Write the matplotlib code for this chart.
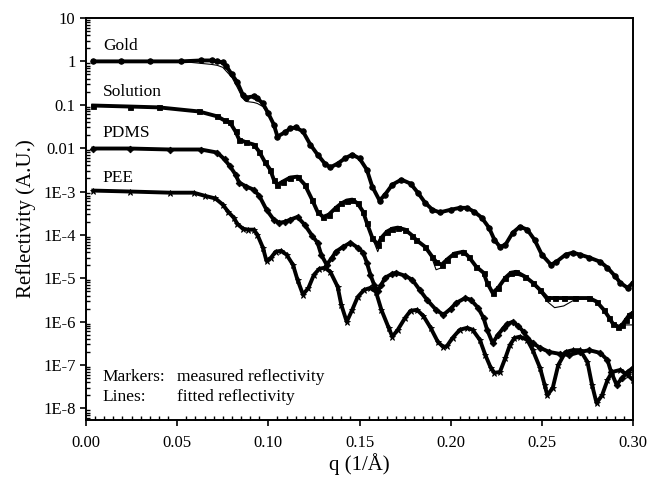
import numpy as np
import matplotlib
matplotlib.use("Agg")
import matplotlib.pyplot as plt
from matplotlib.ticker import FixedLocator, MultipleLocator, LogLocator, NullFormatter

plt.rcParams['font.family'] = ['Liberation Serif', 'DejaVu Serif']

# Gold (circles)
gold_q = [0.004, 0.019, 0.035, 0.052, 0.063, 0.069, 0.072, 0.075, 0.077, 0.080, 0.083, 0.086,
          0.088, 0.092, 0.094, 0.097, 0.100, 0.103, 0.105, 0.109, 0.112, 0.115, 0.119, 0.123,
          0.127, 0.131, 0.134, 0.138, 0.142, 0.146, 0.150, 0.154, 0.157, 0.161, 0.164, 0.168,
          0.173, 0.178, 0.182, 0.186, 0.190, 0.194, 0.200, 0.205, 0.209, 0.213, 0.217, 0.221,
          0.224, 0.227, 0.230, 0.234, 0.238, 0.242, 0.246, 0.250, 0.255, 0.258, 0.263, 0.267,
          0.271, 0.276, 0.282, 0.286, 0.290, 0.293, 0.297, 0.300]
gold_r = [1.0, 1.0, 1.0, 1.0, 1.05, 1.05, 1.0, 0.95, 0.77, 0.50, 0.33, 0.17,
          0.147, 0.156, 0.14, 0.107, 0.063, 0.035, 0.0185, 0.023, 0.0284, 0.030, 0.0242, 0.0121,
          0.0071, 0.0044, 0.0036, 0.0044, 0.0058, 0.0071, 0.0058, 0.0032, 0.0013, 0.00062, 0.00085, 0.00144,
          0.00188, 0.00152, 0.00094, 0.00055, 0.00038, 0.00033, 0.00038, 0.00042, 0.00042, 0.00034, 0.00025, 0.000147,
          7.7e-5, 5.3e-5, 5.9e-5, 1.12e-4, 1.55e-4, 1.32e-4, 7.7e-5, 3.5e-5, 2.05e-5, 2.4e-5, 3.5e-5, 3.9e-5,
          3.5e-5, 3.0e-5, 2.4e-5, 1.75e-5, 1.14e-5, 7.9e-6, 6.0e-6, 7.9e-6]
gold_fit = [1.0, 1.0, 1.0, 1.0, 0.90, 0.85, 0.81, 0.73, 0.59, 0.43, 0.25, 0.14,
            0.119, 0.113, 0.107, 0.091, 0.060, 0.034, 0.0185, 0.023, 0.0284, 0.030, 0.0242, 0.0121,
            0.0071, 0.0044, 0.0036, 0.0044, 0.0058, 0.0071, 0.0058, 0.0032, 0.0013, 0.00062, 0.00085, 0.00144,
            0.00188, 0.00152, 0.00094, 0.00055, 0.00038, 0.00033, 0.00038, 0.00042, 0.00042, 0.00034, 0.00025, 0.000147,
            7.7e-5, 5.3e-5, 5.9e-5, 1.12e-4, 1.55e-4, 1.32e-4, 7.7e-5, 3.5e-5, 2.05e-5, 2.4e-5, 3.5e-5, 3.9e-5,
            3.5e-5, 3.0e-5, 2.4e-5, 1.75e-5, 1.14e-5, 7.9e-6, 6.0e-6, 7.9e-6]

# Solution (squares)
sol_q = [0.004, 0.024, 0.040, 0.062, 0.072, 0.076, 0.079, 0.082, 0.084, 0.088, 0.092, 0.095,
         0.098, 0.101, 0.103, 0.105, 0.108, 0.112, 0.116, 0.120, 0.124, 0.127, 0.130, 0.133,
         0.137, 0.140, 0.143, 0.146, 0.149, 0.152, 0.154, 0.157, 0.160, 0.162, 0.165, 0.168,
         0.171, 0.175, 0.179, 0.181, 0.186, 0.190, 0.192, 0.195, 0.198, 0.202, 0.207, 0.210,
         0.214, 0.218, 0.220, 0.223, 0.226, 0.230, 0.233, 0.236, 0.241, 0.245, 0.249, 0.253,
         0.257, 0.262, 0.268, 0.276, 0.280, 0.284, 0.287, 0.289, 0.292, 0.294, 0.296, 0.298, 0.300]
sol_r = [0.096, 0.091, 0.087, 0.070, 0.054, 0.0434, 0.039, 0.0242, 0.0158, 0.0135, 0.0121, 0.0083,
         0.0049, 0.0032, 0.00188, 0.00144, 0.0017, 0.0021, 0.0022, 0.00144, 0.00065, 0.00034, 0.00026, 0.00029,
         0.00042, 0.00053, 0.00062, 0.00065, 0.00053, 0.00034, 0.00019, 8.6e-5, 5.9e-5, 8.6e-5, 1.19e-4, 1.39e-4,
         1.47e-4, 1.32e-4, 9.6e-5, 7.7e-5, 5.3e-5, 3.1e-5, 2.4e-5, 2.05e-5, 2.7e-5, 3.7e-5, 4.1e-5, 3.1e-5,
         1.85e-5, 1.34e-5, 7.9e-6, 4.6e-6, 6.0e-6, 1.03e-5, 1.34e-5, 1.41e-5, 1.08e-5, 7.9e-6, 5.4e-6, 3.5e-6,
         3.5e-6, 3.5e-6, 3.5e-6, 3.5e-6, 2.9e-6, 1.87e-6, 1.22e-6, 8.9e-7, 7.6e-7, 8.4e-7, 1.1e-6, 1.44e-6, 1.6e-6]
sol_fit = [0.096, 0.091, 0.087, 0.070, 0.054, 0.0434, 0.039, 0.0242, 0.0158, 0.0135, 0.0121, 0.0083,
           0.0049, 0.0032, 0.00188, 0.00144, 0.0017, 0.0021, 0.0022, 0.00144, 0.00065, 0.00034, 0.00026, 0.00029,
           0.00042, 0.00053, 0.00062, 0.00065, 0.00053, 0.00034, 0.00019, 8.6e-5, 4.1e-5, 7.0e-5, 1.19e-4, 1.39e-4,
           1.47e-4, 1.32e-4, 9.6e-5, 7.7e-5, 5.3e-5, 2.7e-5, 1.57e-5, 1.75e-5, 2.5e-5, 3.7e-5, 4.1e-5, 3.1e-5,
           1.85e-5, 1.34e-5, 7.9e-6, 4.6e-6, 6.0e-6, 9.2e-6, 1.14e-5, 1.2e-5, 1.03e-5, 7.5e-6, 4.9e-6, 2.9e-6,
           2.1e-6, 2.3e-6, 3.2e-6, 3.5e-6, 2.9e-6, 1.87e-6, 1.22e-6, 9.4e-7, 8.0e-7, 8.0e-7, 8.4e-7, 8.4e-7, 8.4e-7]

# PDMS (diamonds)
pdms_q = [0.004, 0.024, 0.046, 0.063, 0.072, 0.076, 0.079, 0.082, 0.084, 0.088, 0.092, 0.095,
          0.099, 0.103, 0.106, 0.109, 0.112, 0.116, 0.120, 0.124, 0.127, 0.129, 0.132, 0.135,
          0.137, 0.141, 0.145, 0.149, 0.152, 0.154, 0.156, 0.158, 0.160, 0.162, 0.164, 0.168,
          0.170, 0.175, 0.179, 0.183, 0.187, 0.192, 0.196, 0.200, 0.203, 0.208, 0.211, 0.215,
          0.218, 0.220, 0.223, 0.226, 0.229, 0.231, 0.234, 0.237, 0.240, 0.242, 0.245, 0.249,
          0.254, 0.260, 0.265, 0.271, 0.276, 0.282, 0.286, 0.288, 0.291, 0.294, 0.297, 0.300]
pdms_r = [0.0098, 0.0098, 0.0093, 0.0093, 0.0079, 0.0055, 0.0038, 0.00246, 0.0016, 0.0013, 0.0011, 0.0008,
          0.00038, 0.000224, 0.00019, 0.0002, 0.000224, 0.00026, 0.00017, 9.6e-5, 6.6e-5, 3.5e-5, 2.05e-5, 3.0e-5,
          4.1e-5, 5.3e-5, 6.6e-5, 5.1e-5, 3.9e-5, 2.3e-5, 1.2e-5, 7.1e-6, 5.1e-6, 7.1e-6, 1.03e-5, 1.27e-5,
          1.34e-5, 1.14e-5, 9.2e-6, 5.4e-6, 3.2e-6, 1.87e-6, 1.44e-6, 1.98e-6, 2.7e-6, 3.5e-6, 3.2e-6, 2.1e-6,
          1.22e-6, 6.5e-7, 3.2e-7, 5.0e-7, 7.2e-7, 8.9e-7, 9.9e-7, 8.0e-7, 5.8e-7, 4.2e-7, 3.2e-7, 2.5e-7,
          2.0e-7, 1.8e-7, 1.7e-7, 2.0e-7, 2.2e-7, 1.9e-7, 1.3e-7, 6.9e-8, 3.5e-8, 5.0e-8, 6.9e-8, 8.6e-8]

# PEE (stars)
pee_q = [0.004, 0.024, 0.046, 0.059, 0.065, 0.071, 0.075, 0.078, 0.081, 0.083, 0.086, 0.089,
         0.092, 0.094, 0.097, 0.099, 0.1015, 0.104, 0.107, 0.110, 0.1135, 0.116, 0.119, 0.122,
         0.125, 0.128, 0.131, 0.134, 0.138, 0.140, 0.143, 0.146, 0.149, 0.1525, 0.156, 0.159,
         0.162, 0.166, 0.168, 0.171, 0.175, 0.178, 0.1815, 0.185, 0.189, 0.193, 0.196, 0.198,
         0.201, 0.205, 0.209, 0.212, 0.216, 0.219, 0.222, 0.224, 0.227, 0.230, 0.2325, 0.235,
         0.238, 0.242, 0.245, 0.249, 0.2515, 0.253, 0.256, 0.259, 0.263, 0.267, 0.271, 0.275,
         0.2775, 0.280, 0.283, 0.286, 0.2885, 0.293, 0.297, 0.300]
pee_r = [0.00105, 0.001, 0.00094, 0.00094, 0.0008, 0.00069, 0.0005, 0.00034, 0.00025, 0.00018, 0.000139, 0.000132,
         0.000132, 0.000101, 5.1e-5, 2.5e-5, 3.0e-5, 4.1e-5, 4.3e-5, 3.5e-5, 2.05e-5, 9.2e-6, 4.2e-6, 6.0e-6,
         1.2e-5, 1.66e-5, 1.75e-5, 1.41e-5, 6.4e-6, 2.45e-6, 9.9e-7, 1.87e-6, 3.7e-6, 5.4e-6, 6.0e-6, 4.9e-6,
         1.87e-6, 7.2e-7, 4.5e-7, 6.5e-7, 1.22e-6, 1.78e-6, 1.87e-6, 1.36e-6, 7.2e-7, 3.4e-7, 2.6e-7, 2.76e-7,
         4.2e-7, 6.5e-7, 7.2e-7, 6.5e-7, 3.8e-7, 1.7e-7, 8.6e-8, 6.6e-8, 6.9e-8, 1.46e-7, 2.9e-7, 4.2e-7,
         4.5e-7, 3.8e-7, 2.2e-7, 8.6e-8, 3.5e-8, 2.0e-8, 3.0e-8, 1.0e-7, 2.0e-7, 2.2e-7, 2.2e-7, 1.18e-7,
         3.5e-8, 1.33e-8, 2.0e-8, 4.5e-8, 6.9e-8, 7.7e-8, 5.9e-8, 4.5e-8]

series = [
    ("Gold", gold_q, gold_r, gold_fit, "o", 4.0),
    ("Solution", sol_q, sol_r, sol_fit, "s", 3.6),
    ("PDMS", pdms_q, pdms_r, pdms_r, "D", 3.4),
    ("PEE", pee_q, pee_r, pee_r, "*", 4.5),
]
label_pos = [2.3, 0.2, 0.022, 0.0021]

fig = plt.figure(figsize=(6.47, 4.79), dpi=100)
ax = fig.add_axes([0.1329, 0.1232, 0.8455, 0.8392])

for (name, q, r, fit, mk, ms), ly in zip(series, label_pos):
    ax.plot(q, r, color="black", lw=2.8, marker=mk, ms=ms, mew=0.6, zorder=3)
    ax.plot(q, fit, color="black", lw=0.8, zorder=4)
    ax.text(0.0093, ly, name, fontsize=12.5, ha="left", va="center")

ax.set_yscale("log")
ax.set_xlim(0, 0.30)
ax.set_ylim(5.4e-9, 10)

ax.xaxis.set_minor_locator(MultipleLocator(0.005))
ax.set_xticks([0, 0.05, 0.10, 0.15, 0.20, 0.25, 0.30])
ax.set_xticklabels(["0.00", "0.05", "0.10", "0.15", "0.20", "0.25", "0.30"])

yt = [1e1, 1, 1e-1, 1e-2, 1e-3, 1e-4, 1e-5, 1e-6, 1e-7, 1e-8]
ax.yaxis.set_major_locator(FixedLocator(yt))
ax.set_yticklabels(["10", "1", "0.1", "0.01", "1E-3", "1E-4", "1E-5", "1E-6", "1E-7", "1E-8"])
ax.yaxis.set_minor_locator(LogLocator(base=10, subs=np.arange(2, 10), numticks=20))
ax.yaxis.set_minor_formatter(NullFormatter())

ax.tick_params(which="major", direction="out", length=4, width=1.2, labelsize=12,
               top=False, right=False)
ax.tick_params(axis="x", which="major", pad=7)
ax.tick_params(which="minor", direction="in", length=3, width=1.0, top=False, right=False)
for s in ax.spines.values():
    s.set_linewidth(1.4)

ax.set_xlabel("q (1/Å)", fontsize=15, labelpad=1)
ax.set_ylabel("Reflectivity (A.U.)", fontsize=15, labelpad=5)

ax.text(0.0093, 5.3e-8, "Markers:", fontsize=12.5, ha="left", va="center")
ax.text(0.050, 5.3e-8, "measured reflectivity", fontsize=12.5, ha="left", va="center")
ax.text(0.0093, 1.83e-8, "Lines:", fontsize=12.5, ha="left", va="center")
ax.text(0.050, 1.83e-8, "fitted reflectivity", fontsize=12.5, ha="left", va="center")

fig.savefig("out.png", dpi=100)
